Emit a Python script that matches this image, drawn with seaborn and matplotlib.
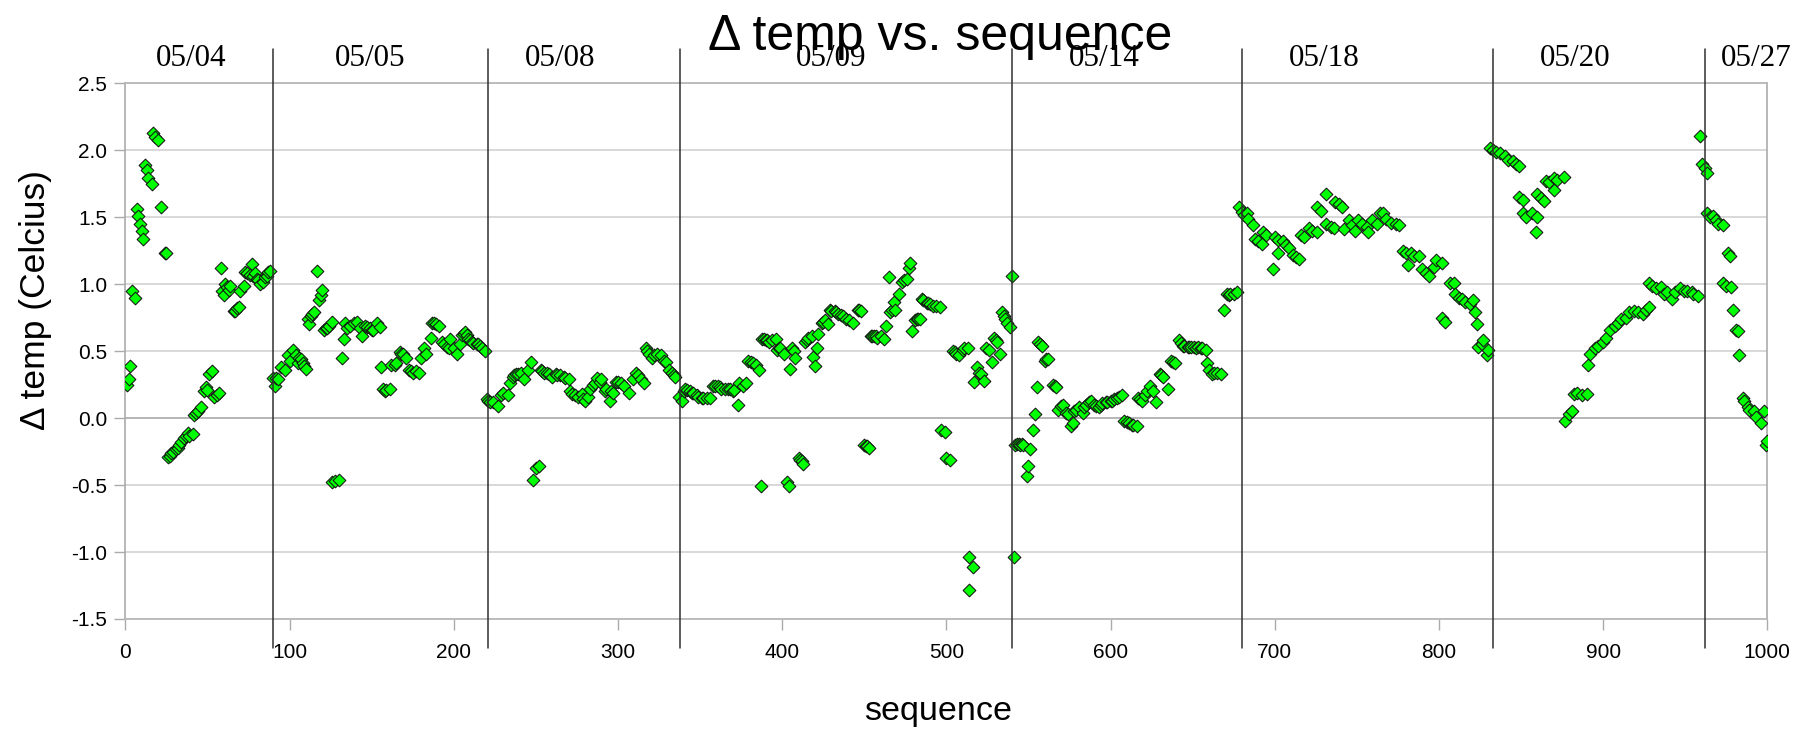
import numpy as np
import pandas as pd
import matplotlib
matplotlib.use("Agg")
import matplotlib.pyplot as plt
import matplotlib.transforms as mtransforms
import seaborn as sns

# ---------------- data ----------------
seq_0504 = [1, 2, 3, 4, 6, 7, 8, 9, 10, 11, 12, 13, 14, 16, 17, 18, 20, 22, 24, 25,
            26, 27, 28, 29, 31, 32, 33, 34, 36, 37, 38, 39, 41, 42, 43, 44, 46, 48, 49, 50,
            51, 53, 54, 56, 57, 58, 59, 60, 61, 62, 63, 64, 66, 67, 68, 69, 70, 72, 73, 74,
            76, 77, 78, 79, 80, 81, 82, 84, 85, 86, 87, 88]
dt_0504 = [0.25, 0.29, 0.39, 0.95, 0.90, 1.56, 1.51, 1.45, 1.40, 1.34, 1.89, 1.85, 1.79, 1.75, 2.13, 2.10, 2.08, 1.58, 1.23, 1.23,
           -0.29, -0.28, -0.26, -0.25, -0.23, -0.22, -0.20, -0.18, -0.15, -0.13, -0.11, -0.13, -0.12, 0.02, 0.04, 0.05, 0.08, 0.20, 0.23, 0.21,
           0.33, 0.35, 0.16, 0.17, 0.19, 1.12, 0.95, 0.92, 1.00, 0.98, 0.96, 0.99, 0.80, 0.80, 0.82, 0.83, 0.95, 0.99, 1.09, 1.08,
           1.07, 1.15, 1.06, 1.08, 1.04, 1.03, 1.00, 1.02, 1.05, 1.06, 1.09, 1.10]

seq_0505 = [90, 91, 92, 93, 95, 97, 99, 100, 102, 104, 105, 106, 107, 108, 109, 110, 111, 112, 113, 114,
            115, 117, 118, 119, 120, 121, 122, 123, 124, 126, 126, 128, 130, 132, 133, 134, 135, 137, 139, 141,
            143, 144, 146, 147, 149, 150, 151, 153, 155, 156, 157, 158, 159, 161, 162, 164, 165, 167, 168, 169,
            171, 173, 174, 175, 177, 179, 180, 182, 183, 186, 187, 188, 189, 191, 193, 194, 196, 197, 198, 200,
            202, 204, 205, 206, 207, 208, 209, 210, 211, 212, 214, 215, 216, 217, 219]
dt_0505 = [0.30, 0.24, 0.30, 0.29, 0.38, 0.36, 0.47, 0.43, 0.51, 0.47, 0.41, 0.45, 0.44, 0.41, 0.39, 0.37, 0.74, 0.70, 0.76, 0.78,
           0.79, 1.10, 0.88, 0.92, 0.96, 0.66, 0.67, 0.67, 0.69, 0.72, -0.48, -0.47, -0.46, 0.45, 0.59, 0.71, 0.67, 0.69, 0.71, 0.72,
           0.67, 0.61, 0.69, 0.68, 0.67, 0.66, 0.66, 0.71, 0.68, 0.38, 0.22, 0.20, 0.21, 0.22, 0.40, 0.40, 0.41, 0.49, 0.48, 0.48,
           0.45, 0.36, 0.35, 0.34, 0.35, 0.34, 0.45, 0.52, 0.48, 0.60, 0.71, 0.71, 0.70, 0.69, 0.57, 0.55, 0.53, 0.52, 0.59, 0.52,
           0.48, 0.55, 0.62, 0.63, 0.64, 0.62, 0.59, 0.58, 0.57, 0.56, 0.55, 0.55, 0.54, 0.52, 0.50]

seq_0508 = [220, 221, 222, 224, 227, 229, 230, 233, 234, 236, 237, 238, 239, 241, 243, 245, 247, 248, 250, 252,
            253, 254, 255, 257, 258, 260, 262, 263, 265, 267, 268, 270, 271, 272, 274, 276, 278, 279, 280, 282,
            283, 285, 286, 287, 289, 290, 292, 293, 295, 296, 297, 299, 300, 302, 304, 307, 309, 311, 312, 314,
            316, 317, 318, 319, 321, 322, 324, 326, 328, 329, 331, 333, 334, 335, 337]
dt_0508 = [0.14, 0.13, 0.12, 0.12, 0.09, 0.17, 0.19, 0.17, 0.26, 0.31, 0.32, 0.33, 0.33, 0.34, 0.29, 0.36, 0.42, -0.46, -0.37, -0.36,
           0.36, 0.35, 0.34, 0.34, 0.33, 0.31, 0.33, 0.32, 0.32, 0.31, 0.30, 0.29, 0.20, 0.18, 0.17, 0.16, 0.18, 0.14, 0.13, 0.16,
           0.22, 0.25, 0.26, 0.30, 0.27, 0.29, 0.20, 0.22, 0.13, 0.20, 0.19, 0.27, 0.27, 0.26, 0.24, 0.19, 0.29, 0.34, 0.32, 0.29,
           0.26, 0.52, 0.50, 0.48, 0.45, 0.47, 0.48, 0.47, 0.43, 0.42, 0.36, 0.34, 0.32, 0.31, 0.16]

seq_0509 = [339, 340, 341, 342, 344, 345, 346, 348, 349, 351, 352, 354, 356, 358, 359, 361, 362, 363, 365, 367,
            368, 370, 371, 373, 374, 376, 378, 379, 381, 382, 384, 386, 387, 388, 389, 390, 391, 392, 394, 396,
            397, 398, 399, 401, 403, 404, 405, 406, 407, 408, 410, 411, 412, 413, 414, 415, 416, 418, 419, 420,
            421, 422, 424, 425, 426, 428, 429, 430, 432, 433, 434, 436, 437, 439, 441, 443, 446, 447, 448, 450,
            451, 452, 453, 454, 455, 456, 457, 458, 460, 462, 463, 465, 466, 467, 468, 469, 471, 473, 474, 476,
            477, 478, 479, 481, 482, 483, 484, 485, 486, 488, 489, 490, 492, 494, 496, 497, 499, 500, 502, 504,
            505, 506, 508, 510, 511, 513, 514, 514, 516, 517, 519, 520, 521, 523, 524, 526, 528, 529, 530, 531,
            533, 534, 535, 536, 537, 539, 540]
dt_0509 = [0.13, 0.20, 0.22, 0.21, 0.20, 0.19, 0.19, 0.17, 0.16, 0.15, 0.15, 0.15, 0.15, 0.24, 0.24, 0.24, 0.23, 0.22, 0.22, 0.22,
           0.22, 0.20, 0.21, 0.10, 0.26, 0.24, 0.26, 0.43, 0.42, 0.41, 0.40, 0.36, -0.51, 0.59, 0.59, 0.58, 0.58, 0.57, 0.58, 0.59,
           0.51, 0.52, 0.52, 0.48, -0.48, -0.51, 0.37, 0.52, 0.50, 0.45, -0.30, -0.31, -0.32, -0.34, 0.57, 0.58, 0.60, 0.61, 0.46, 0.39,
           0.52, 0.63, 0.71, 0.72, 0.73, 0.70, 0.81, 0.80, 0.80, 0.79, 0.78, 0.77, 0.76, 0.74, 0.73, 0.71, 0.81, 0.81, 0.80, -0.20,
           -0.21, -0.21, -0.22, 0.61, 0.61, 0.61, 0.61, 0.60, 0.61, 0.59, 0.69, 1.05, 0.79, 0.81, 0.87, 0.81, 0.93, 1.02, 1.03, 1.04,
           1.12, 1.16, 0.65, 0.73, 0.74, 0.74, 0.74, 0.89, 0.88, 0.86, 0.86, 0.85, 0.84, 0.84, 0.83, -0.09, -0.10, -0.30, -0.31, 0.50,
           0.49, 0.48, 0.47, 0.51, 0.52, 0.52, -1.04, -1.28, -1.11, 0.27, 0.38, 0.34, 0.33, 0.28, 0.52, 0.51, 0.42, 0.60, 0.58, 0.57,
           0.48, 0.79, 0.76, 0.74, 0.71, 0.68, 1.06]

seq_0514 = [541, 542, 543, 544, 545, 546, 547, 549, 550, 551, 553, 554, 555, 556, 557, 558, 560, 561, 562, 565,
            566, 567, 568, 570, 571, 573, 574, 576, 577, 578, 579, 581, 583, 584, 585, 587, 588, 590, 591, 593,
            594, 595, 597, 598, 600, 601, 602, 604, 605, 607, 608, 610, 611, 613, 614, 616, 617, 618, 619, 621,
            622, 624, 626, 628, 630, 631, 632, 635, 637, 638, 639, 642, 643, 644, 645, 647, 648, 649, 651, 652,
            653, 655, 656, 658, 659, 660, 662, 663, 665, 667, 669, 671, 672, 673, 675, 677]
dt_0514 = [-1.04, -0.20, -0.19, -0.19, -0.20, -0.19, -0.20, -0.43, -0.36, -0.23, -0.09, 0.03, 0.23, 0.57, 0.55, 0.54, 0.43, 0.44, 0.44, 0.25,
           0.24, 0.23, 0.06, 0.09, 0.10, 0.04, 0.03, -0.06, -0.04, 0.05, 0.06, 0.08, 0.04, 0.08, 0.10, 0.12, 0.13, 0.10, 0.09, 0.08,
           0.10, 0.11, 0.12, 0.12, 0.13, 0.13, 0.14, 0.15, 0.16, 0.17, -0.02, -0.03, -0.04, -0.05, -0.05, -0.06, 0.15, 0.14, 0.13, 0.17,
           0.20, 0.24, 0.20, 0.12, 0.33, 0.32, 0.31, 0.22, 0.43, 0.42, 0.41, 0.58, 0.56, 0.54, 0.54, 0.53, 0.53, 0.53, 0.53, 0.52,
           0.53, 0.52, 0.52, 0.51, 0.41, 0.36, 0.33, 0.34, 0.34, 0.33, 0.81, 0.93, 0.92, 0.93, 0.93, 0.94]

seq_0518 = [678, 680, 681, 683, 684, 687, 688, 690, 692, 693, 695, 699, 702, 700, 702, 705, 707, 709, 711, 713,
            715, 716, 718, 721, 723, 726, 726, 728, 731, 731, 734, 736, 737, 739, 741, 742, 745, 747, 749, 751,
            753, 756, 757, 759, 762, 764, 766, 768, 771, 774, 776, 778, 780, 781, 783, 785, 788, 790, 792, 794,
            797, 798, 802, 802, 804, 807, 809, 810, 812, 814, 816, 819, 821, 822, 823, 824, 826, 827, 829, 830]
dt_0518 = [1.58, 1.54, 1.52, 1.53, 1.49, 1.44, 1.34, 1.32, 1.30, 1.39, 1.37, 1.11, 1.23, 1.35, 1.33, 1.32, 1.29, 1.27, 1.22, 1.20,
           1.19, 1.37, 1.35, 1.42, 1.40, 1.39, 1.58, 1.55, 1.67, 1.45, 1.43, 1.42, 1.61, 1.60, 1.58, 1.41, 1.48, 1.44, 1.40, 1.48,
           1.45, 1.43, 1.39, 1.48, 1.45, 1.53, 1.53, 1.49, 1.46, 1.45, 1.44, 1.25, 1.23, 1.14, 1.23, 1.21, 1.21, 1.11, 1.08, 1.06,
           1.13, 1.18, 1.16, 0.75, 0.72, 1.01, 1.01, 0.93, 0.90, 0.89, 0.87, 0.85, 0.88, 0.79, 0.70, 0.53, 0.55, 0.58, 0.47, 0.51]

seq_0520 = [831, 833, 835, 837, 840, 842, 845, 847, 849, 849, 851, 851, 853, 857, 860, 859, 860, 862, 864, 865,
            867, 870, 872, 876, 870, 877, 879, 881, 882, 884, 887, 890, 891, 892, 895, 897, 900, 902, 904, 907,
            909, 911, 914, 916, 919, 921, 924, 926, 928, 928, 930, 932, 935, 937, 939, 942, 944, 947, 949, 951,
            954, 955, 958]
dt_0520 = [2.02, 2.00, 1.99, 1.98, 1.96, 1.93, 1.92, 1.90, 1.88, 1.65, 1.63, 1.53, 1.50, 1.53, 1.50, 1.39, 1.67, 1.64, 1.62, 1.77,
           1.76, 1.79, 1.78, 1.80, 1.70, -0.02, 0.03, 0.05, 0.18, 0.19, 0.17, 0.18, 0.40, 0.48, 0.52, 0.54, 0.57, 0.60, 0.66, 0.69,
           0.71, 0.74, 0.75, 0.79, 0.80, 0.79, 0.78, 0.81, 0.83, 1.01, 0.99, 0.97, 0.98, 0.93, 0.94, 0.89, 0.94, 0.97, 0.95, 0.95,
           0.94, 0.93, 0.91]

seq_0527 = [959, 960, 962, 963, 963, 965, 967, 969, 970, 973, 976, 977, 973, 975, 978, 979, 981, 982, 983, 985,
            986, 988, 989, 992, 993, 996, 998, 999, 1000]
dt_0527 = [2.11, 1.90, 1.87, 1.83, 1.53, 1.50, 1.51, 1.48, 1.45, 1.44, 1.23, 1.21, 1.01, 0.99, 0.98, 0.81, 0.66, 0.65, 0.47, 0.15,
           0.13, 0.08, 0.06, 0.05, 0.01, -0.04, 0.05, -0.20, -0.17]

day_labels = ["05/04", "05/05", "05/08", "05/09", "05/14", "05/18", "05/20", "05/27"]
label_seq = [40, 149, 265, 430, 596, 730, 883, 993]
separators = [90, 221, 338, 540, 680, 833, 962]

x_ticks = list(range(0, 1001, 100))
y_ticks = [-1.5, -1.0, -0.5, 0.0, 0.5, 1.0, 1.5, 2.0, 2.5]

df = pd.DataFrame({
    "sequence": seq_0504 + seq_0505 + seq_0508 + seq_0509 + seq_0514 + seq_0518 + seq_0520 + seq_0527,
    "dtemp": dt_0504 + dt_0505 + dt_0508 + dt_0509 + dt_0514 + dt_0518 + dt_0520 + dt_0527,
})

# ---------------- style ----------------
sns.set_theme(style="white")
SANS = ["Liberation Sans", "DejaVu Sans"]
plt.rcParams["font.family"] = SANS
plt.rcParams["axes.unicode_minus"] = False

W, H = 1812, 734
fig = plt.figure(figsize=(W / 100, H / 100), dpi=100)
ax_l, ax_r, ax_t, ax_b = 125.3, 1767.3, 83.3, 619.0
ax = fig.add_axes([ax_l / W, 1 - ax_b / H, (ax_r - ax_l) / W, (ax_b - ax_t) / H])

sns.scatterplot(data=df, x="sequence", y="dtemp", marker="D", s=42,
                color="#00ff00", edgecolor="#141414", linewidth=0.75,
                ax=ax, legend=False, zorder=3)

ax.set_xlim(0, 1000)
ax.set_ylim(-1.5, 2.5)
ax.set_xticks(x_ticks)
ax.set_xticklabels([str(v) for v in x_ticks])
ax.set_yticks(y_ticks)
ax.set_yticklabels([f"{v:.1f}" for v in y_ticks])
ax.set_xlabel("")
ax.set_ylabel("")

ax.grid(axis="y", color="#d2d2d2", linewidth=1.2, zorder=0)
ax.grid(axis="x", visible=False)
ax.axhline(0.0, color="#b4b4b4", linewidth=1.3, zorder=1)
for side in ["left", "right"]:
    ax.spines[side].set_color("#ababab")
    ax.spines[side].set_linewidth(1.2)
for side in ["top", "bottom"]:
    ax.spines[side].set_color("#b8b8b8")
    ax.spines[side].set_linewidth(1.3)

ax.tick_params(axis="both", which="major", bottom=True, left=True, direction="out",
               length=8, width=1.0, color="#ababab", labelcolor="black", labelsize=15)
ax.tick_params(axis="x", pad=9)
ax.tick_params(axis="y", pad=5)

# day separators (extend beyond the plot area)
ymin_ax = (ax_b - 648) / (ax_b - ax_t)
ymax_ax = (ax_b - 49) / (ax_b - ax_t)
for s in separators:
    ax.axvline(s, ymin=ymin_ax, ymax=ymax_ax, color="#303030", linewidth=1.1,
               clip_on=False, zorder=4)

# day labels
trans = mtransforms.blended_transform_factory(ax.transData, ax.transAxes)
lab_y = (ax_b - 65.5) / (ax_b - ax_t)
for lab, pos in zip(day_labels, label_seq):
    ax.text(pos, lab_y, lab, transform=trans, ha="center", va="baseline",
            family=["Liberation Serif", "DejaVu Serif"], fontsize=22.4, color="black")

# title and axis labels
fig.text(940 / W, 1 - 50 / H, "\u0394 temp vs. sequence", ha="center", va="baseline",
         fontsize=36, family=SANS, color="black", zorder=6)
fig.text(36 / W, 1 - 300 / H, "\u0394 temp (Celcius)", rotation=90, ha="center", va="center",
         fontsize=25.5, family=SANS, color="black")
fig.text(938.5 / W, 1 - 720 / H, "sequence", ha="center", va="baseline",
         fontsize=24.5, family=SANS, color="black")

fig.savefig("out.png", dpi=100)
